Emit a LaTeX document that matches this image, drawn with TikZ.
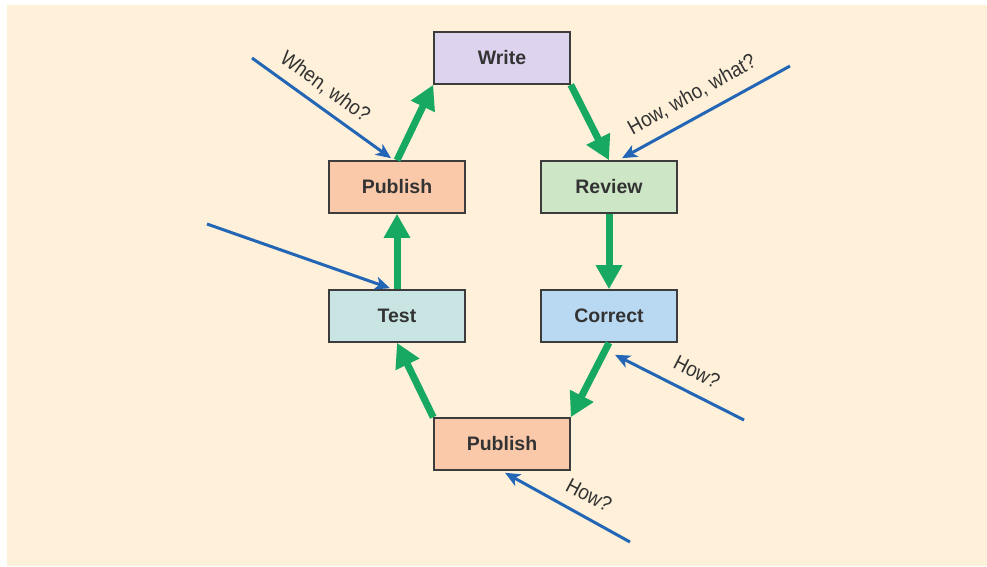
\documentclass[tikz,border=0pt]{standalone}
\usepackage{fontspec}
\setmainfont{Liberation Sans}
\newfontfamily\asknarrow[FakeStretch=0.9]{Liberation Sans}
\usetikzlibrary{arrows.meta}

\definecolor{bgcream}{HTML}{FEF0D9}
\definecolor{boxline}{HTML}{3C3C3C}
\definecolor{txtdark}{HTML}{333333}
\definecolor{flowgreen}{HTML}{17A862}
\definecolor{askblue}{HTML}{2466B6}
\definecolor{fillwrite}{HTML}{DDD3EE}
\definecolor{fillpublish}{HTML}{F9C9A9}
\definecolor{fillreview}{HTML}{CDE6C5}
\definecolor{filltest}{HTML}{C8E5E3}
\definecolor{fillcorrect}{HTML}{B9D8F2}

\tikzset{
  stage/.style={draw=boxline, line width=1.6pt, minimum width=136pt, minimum height=52pt,
    inner sep=0pt, text=txtdark, font=\fontsize{19.5}{21}\selectfont\bfseries},
  flow/.style={draw=flowgreen, line width=7pt,
    -{Triangle[width=25pt,length=24pt]}},
  ask/.style={draw=askblue, line width=3pt,
    -{Stealth[width=13pt,length=15pt,inset=4pt]}},
  asktext/.style={text=txtdark, inner sep=0pt, font=\asknarrow\fontsize{21}{23}\selectfont}
}

\begin{document}
\begin{tikzpicture}[x=1pt, y=-1pt]
  % page and cream panel
  \useasboundingbox (0,0) rectangle (987,566);
  \fill[white] (0,0) rectangle (987,566);
  \fill[bgcream] (7,5) rectangle (987,566);

  % the six stages of the cycle
  \node[stage, fill=fillwrite]   (write)   at (502,58)  {Write};
  \node[stage, fill=fillpublish] (pubtop)  at (397,187) {Publish};
  \node[stage, fill=fillreview]  (review)  at (609,187) {Review};
  \node[stage, fill=filltest]    (test)    at (397,316) {Test};
  \node[stage, fill=fillcorrect] (correct) at (609,316) {Correct};
  \node[stage, fill=fillpublish] (pubbot)  at (502,444) {Publish};

  % cycle arrows
  \draw[flow] (pubtop.north) -- (write.south west);
  \draw[flow] (write.south east) -- (review.north);
  \draw[flow] (review.south) -- (correct.north);
  \draw[flow] (correct.south) -- (pubbot.north east);
  \draw[flow] (pubbot.north west) -- (test.south);
  \draw[flow] (test.north) -- (pubtop.south);

  % free ends of the question arrows
  \coordinate (qwhen)   at (252,58);
  \coordinate (qhow)    at (790,66);
  \coordinate (qtest)   at (207,224);
  \coordinate (qcorr)   at (744,420);
  \coordinate (qpub)    at (630,542);

  % question arrows
  \draw[ask] (qwhen) -- ([xshift=-6pt,yshift=2pt]pubtop.north);
  \draw[ask] (qhow)  -- ([xshift=13pt,yshift=2pt]review.north);
  \draw[ask] (qtest) -- ([xshift=-7pt,yshift=1pt]test.north);
  \draw[ask] (qcorr) -- ([xshift=6pt,yshift=-12pt]correct.south);
  \draw[ask] (qpub)  -- ([xshift=3pt,yshift=-2pt]pubbot.south);

  % question labels
  \node[asktext, rotate=-36] (lwhen) at (325,87)  {When, who?};
  \node[asktext, rotate=29]  (lhow)  at (692,95)  {How, who, what?};
  \node[asktext, rotate=-27] (lcorr) at (697,372) {How?};
  \node[asktext, rotate=-28] (lpub)  at (589,495) {How?};
\end{tikzpicture}
\end{document}
